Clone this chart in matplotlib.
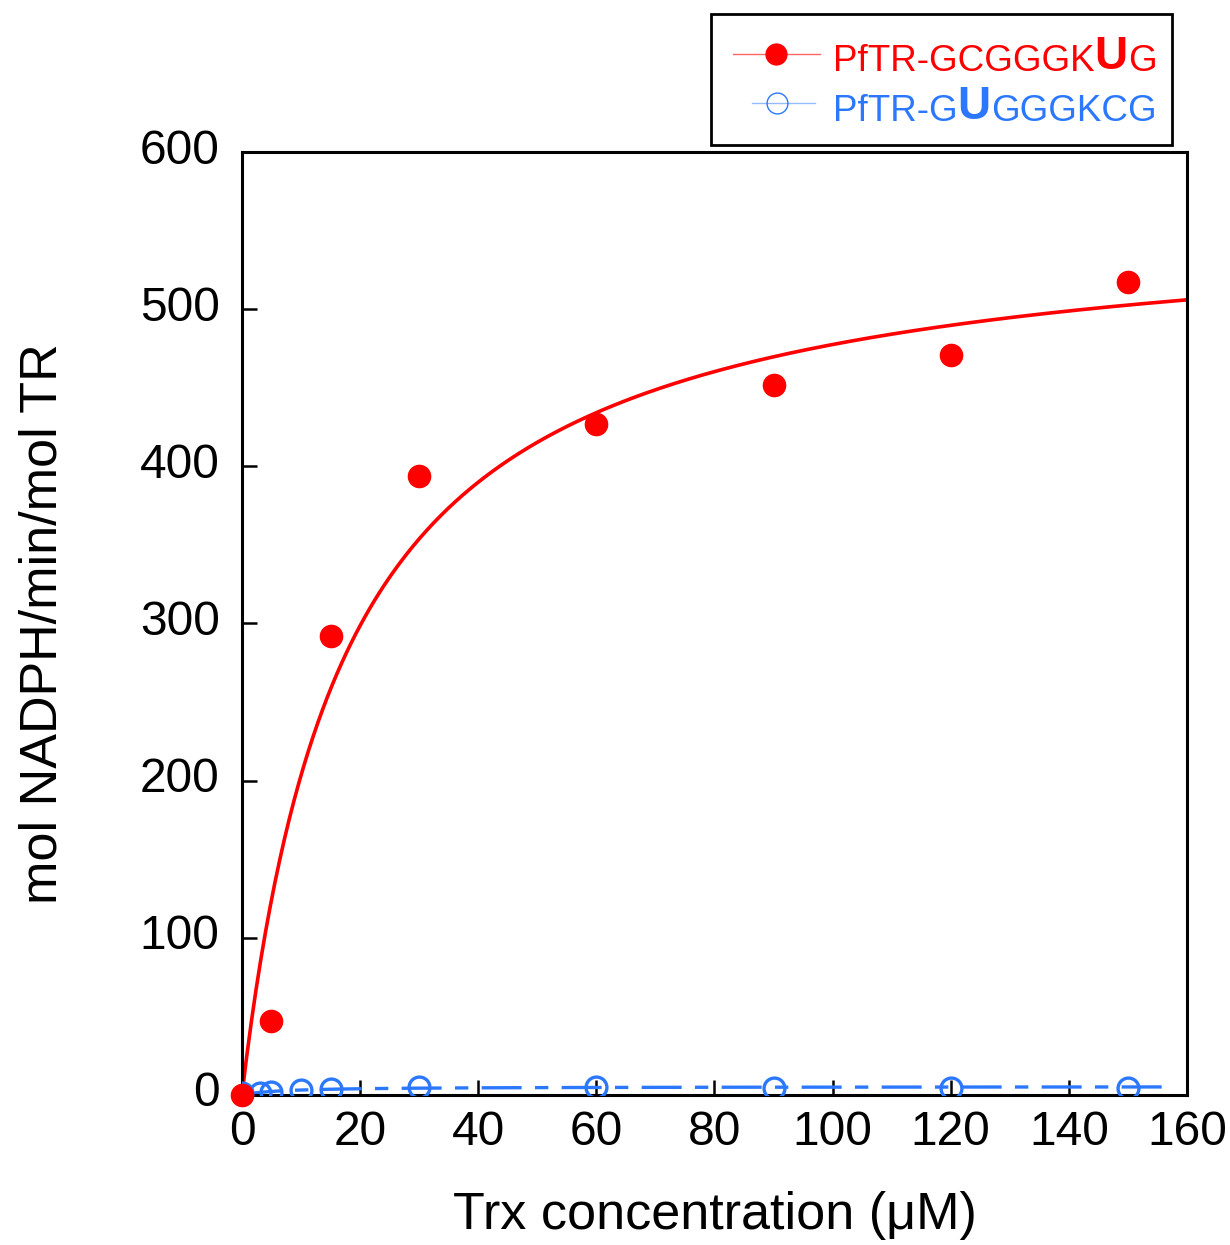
import numpy as np
import matplotlib
matplotlib.use('Agg')
import matplotlib.pyplot as plt
import matplotlib.transforms as mtransforms
from matplotlib.lines import Line2D
from matplotlib.patches import Rectangle

plt.rcParams['font.family'] = ['Liberation Sans', 'DejaVu Sans']

# Data
trx_red = [0, 5, 15, 30, 60, 90, 120, 150]
rate_red = [0, 47, 292, 394, 427, 452, 471, 517]

trx_blue = [0, 3, 5, 10, 15, 30, 60, 90, 120, 150]
rate_blue = [1, 1.5, 2, 3, 3.6, 5.3, 5.3, 4.7, 4.7, 4.7]

xticks = [0, 20, 40, 60, 80, 100, 120, 140, 160]
yticks = [0, 100, 200, 300, 400, 500, 600]

red = '#ff0000'
blue = '#2b78ff'


def mm_fit(x, y):
    # least squares Michaelis-Menten fit, grid over Km
    x = np.asarray(x, float)
    y = np.asarray(y, float)
    best = None
    for km in np.linspace(0.5, 100, 2000):
        f = x / (km + x)
        vmax = (f @ y) / (f @ f)
        err = np.sum((y - vmax * f) ** 2)
        if best is None or err < best[0]:
            best = (err, vmax, km)
    return best[1], best[2]


vr, kr = mm_fit(trx_red, rate_red)
vb, kb = mm_fit(trx_blue, rate_blue)

fig = plt.figure(figsize=(12.3, 12.45), dpi=100)
ax = fig.add_axes([0.1967, 0.1205, 0.7683, 0.7574])

xr = np.linspace(0, 160, 400)
ax.plot(xr, vr * xr / (kr + xr), color=red, lw=2.6, zorder=2)
xb = np.linspace(0, 157, 400)
ax.plot(xb, vb * xb / (kb + xb), color=blue, lw=2.4, dashes=(12, 4, 4, 4), zorder=2)

ax.plot(trx_blue, rate_blue, 'o', ms=15, mfc='none', mec=blue, mew=2.4, zorder=3)
ax.plot(trx_red, rate_red, 'o', ms=16, color=red, zorder=4, clip_on=False)

ax.set_xlim(0, 160)
ax.set_ylim(0, 600)
ax.set_xticks(xticks)
ax.set_yticks(yticks)
ax.tick_params(direction='in', length=11, width=1.8, labelsize=34.5,
               top=False, right=False)
ax.tick_params(axis='x', pad=11)
ax.tick_params(axis='y', pad=16)
for s in ax.spines.values():
    s.set_linewidth(2.2)

# y tick labels sit a little above their ticks in the original
shift = mtransforms.ScaledTranslation(0, 0.06, fig.dpi_scale_trans)
for lab in ax.get_yticklabels():
    lab.set_transform(lab.get_transform() + shift)

ax.set_xlabel('Trx concentration (\u03bcM)', fontsize=37.5, labelpad=26)
ax.set_ylabel('mol NADPH/min/mol TR', fontsize=37.5, labelpad=52)

# legend drawn by hand (mixed font sizes in labels)
fig.patches.append(Rectangle((711 / 1230, 1 - 145 / 1245), 461 / 1230, 131 / 1245,
                             transform=fig.transFigure, fill=False,
                             ec='black', lw=2))
fig.lines.append(Line2D([733 / 1230, 820 / 1230], [1 - 54 / 1245] * 2,
                        transform=fig.transFigure, color=red, lw=1, alpha=0.6))
fig.lines.append(Line2D([776 / 1230], [1 - 54 / 1245], transform=fig.transFigure,
                        marker='o', ms=15, color=red, ls='none'))
fig.lines.append(Line2D([752 / 1230, 815 / 1230], [1 - 103 / 1245] * 2,
                        transform=fig.transFigure, color=blue, lw=1, alpha=0.5))
fig.lines.append(Line2D([777 / 1230], [1 - 103 / 1245], transform=fig.transFigure,
                        marker='o', ms=15, mfc='none', mec=blue, mew=1, ls='none'))


def chain(parts, x, y, color):
    # place text pieces one after another
    prev = fig.text(x, y, parts[0][0], fontsize=parts[0][1], fontweight=parts[0][2],
                    color=color, va='bottom', ha='left')
    for s, size, weight in parts[1:]:
        prev = plt.annotate(s, xy=(1, 0), xycoords=prev, fontsize=size,
                            fontweight=weight, color=color, va='bottom', ha='left',
                            annotation_clip=False)


chain([('PfTR-GCGGGK', 26.5, 'normal'), ('U', 33, 'bold'), ('G', 26.5, 'normal')],
      833 / 1230, 1 - 79 / 1245, red)
chain([('PfTR-G', 26.5, 'normal'), ('U', 33, 'bold'), ('GGGKCG', 26.5, 'normal')],
      833 / 1230, 1 - 129 / 1245, blue)

fig.savefig('out.png', dpi=100)
